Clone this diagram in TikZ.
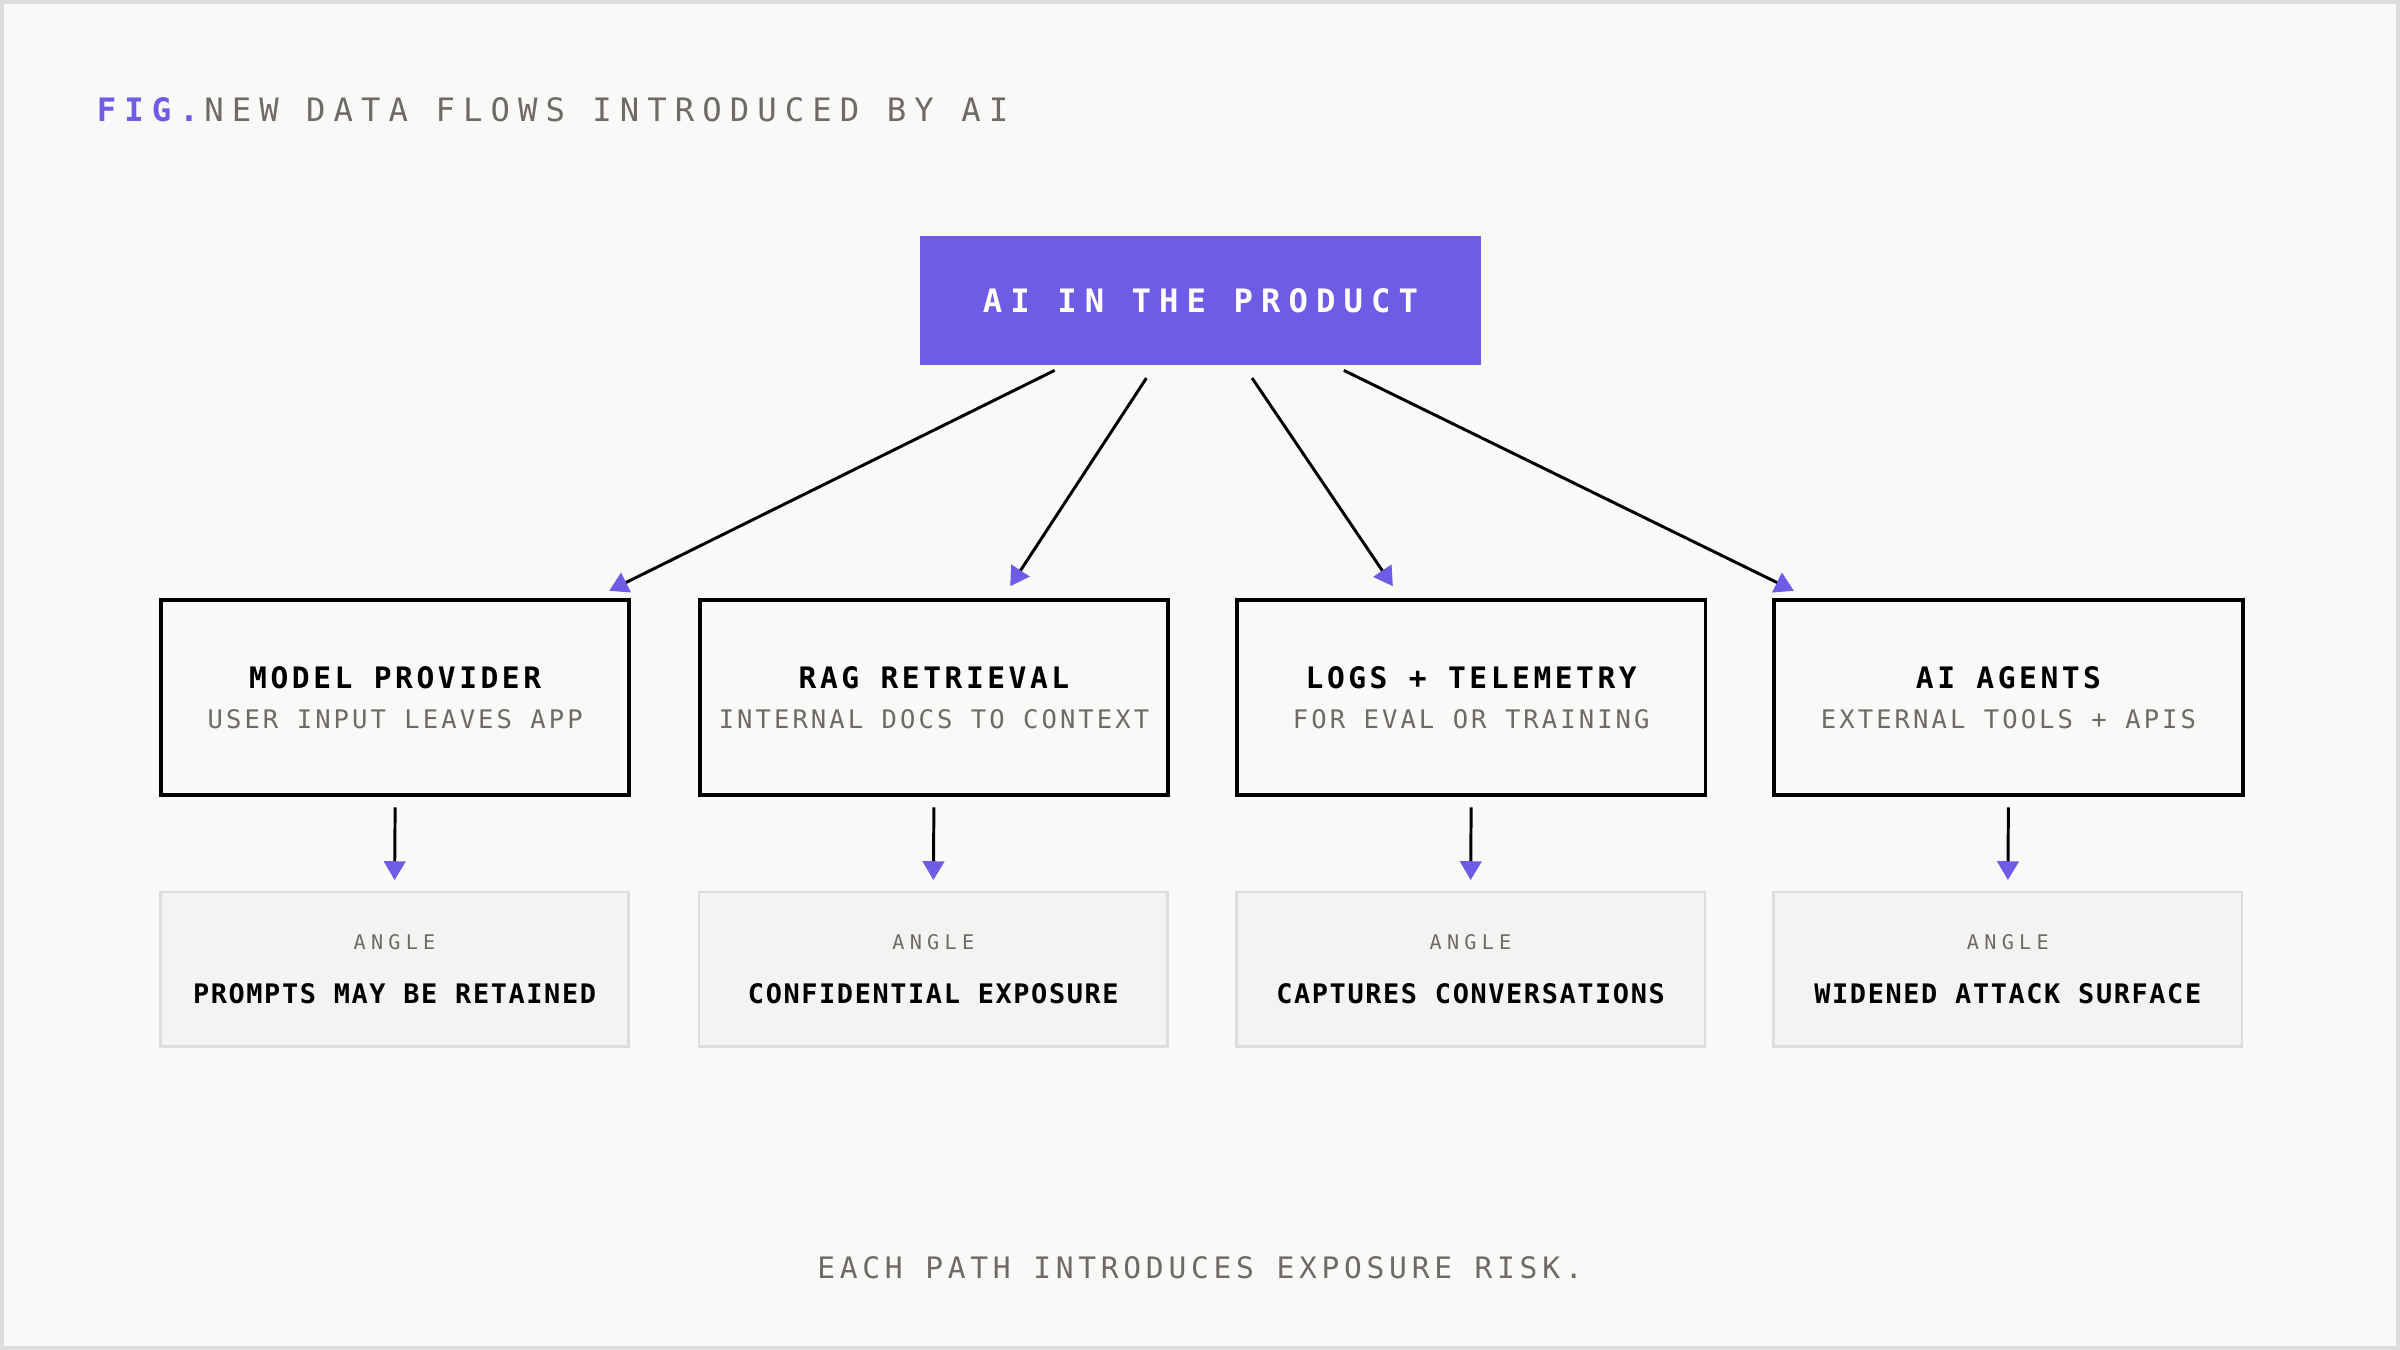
\documentclass[tikz,border=0pt]{standalone}
\usepackage{fontspec}
\usetikzlibrary{arrows.meta,positioning}
\newfontfamily\ttA[LetterSpace=25]{DejaVu Sans Mono}
\newfontfamily\ttB[LetterSpace=12]{DejaVu Sans Mono}
\newfontfamily\ttC[LetterSpace=26]{DejaVu Sans Mono}
\newfontfamily\ttD[LetterSpace=6]{DejaVu Sans Mono}
\newfontfamily\ttE[LetterSpace=16]{DejaVu Sans Mono}
\definecolor{accent}{HTML}{6E5BE6}
\definecolor{greytxt}{HTML}{6F6A66}
\definecolor{paper}{HTML}{F9F9F7}
\definecolor{cardbg}{HTML}{F3F3F1}
\definecolor{cardln}{HTML}{DDDDDB}
\tikzset{
  flowbox/.style={draw=black, line width=1.4pt, fill=paper, minimum width=6.12cm, minimum height=2.54cm, anchor=north west},
  anglebox/.style={draw=cardln, line width=0.9pt, fill=cardbg, minimum width=6.12cm, minimum height=2.02cm, anchor=north west},
  flow/.style={line width=1.1pt, -{Triangle[length=7pt,width=8pt,color=accent]}},
}
\newcommand{\flowtext}[2]{{\ttB\bfseries\fontsize{11}{13}\selectfont #1}\\[3pt]{\ttB\color{greytxt}\fontsize{9.5}{12}\selectfont #2}}
\newcommand{\angletext}[1]{{\ttC\color{greytxt}\fontsize{7.5}{10}\selectfont ANGLE}\\[8pt]{\ttD\bfseries\fontsize{10}{12}\selectfont #1}}
\begin{document}
\begin{tikzpicture}[x=0.02cm,y=-0.02cm]
  \useasboundingbox (0,0) rectangle (1568,882);
  \fill[paper] (0,0) rectangle (1568,882);
  \draw[cardln, line width=1.5pt] (1,1) rectangle (1567,881);

  % heading
  \node[anchor=west, inner sep=0, font=\ttA\fontsize{12}{14}\selectfont] (fig) at (63,72)
    {\textcolor{accent}{\bfseries FIG.}\,\textcolor{greytxt}{NEW DATA FLOWS INTRODUCED BY AI}};

  % source
  \node[fill=accent, text=white, minimum width=7.32cm, minimum height=1.68cm, anchor=north west,
        font=\ttA\bfseries\fontsize{12}{14}\selectfont] (ai) at (601,154) {AI IN THE PRODUCT};

  % flows
  \node[flowbox, align=center] (provider) at (104,391) {\flowtext{MODEL PROVIDER}{USER INPUT LEAVES APP}};
  \node[flowbox, align=center] (rag) at (456,391) {\flowtext{RAG RETRIEVAL}{INTERNAL DOCS TO CONTEXT}};
  \node[flowbox, align=center] (logs) at (807,391) {\flowtext{LOGS + TELEMETRY}{FOR EVAL OR TRAINING}};
  \node[flowbox, align=center] (agents) at (1158,391) {\flowtext{AI AGENTS}{EXTERNAL TOOLS + APIS}};

  % angles
  \node[anglebox, align=center] (retain) at (104,582) {\angletext{PROMPTS MAY BE RETAINED}};
  \node[anglebox, align=center] (expose) at (456,582) {\angletext{CONFIDENTIAL EXPOSURE}};
  \node[anglebox, align=center] (capture) at (807,582) {\angletext{CAPTURES CONVERSATIONS}};
  \node[anglebox, align=center] (attack) at (1158,582) {\angletext{WIDENED ATTACK SURFACE}};

  \coordinate (s1) at (689,242);
  \coordinate (s2) at (749,247);
  \coordinate (s3) at (818,247);
  \coordinate (s4) at (878,242);
  \coordinate (e1) at (398,386);
  \coordinate (e2) at (660,383);
  \coordinate (e3) at (910,383);
  \coordinate (e4) at (1172,386);

  \draw[flow] (s1) -- (e1);
  \draw[flow] (s2) -- (e2);
  \draw[flow] (s3) -- (e3);
  \draw[flow] (s4) -- (e4);

  \foreach \a/\b in {provider/retain, rag/expose, logs/capture, agents/attack}
    \draw[flow, shorten <=4pt, shorten >=4pt] (\a.south) -- (\b.north);

  \node[font=\ttE\fontsize{11}{13}\selectfont, text=greytxt] (risk) at (784,828) {EACH PATH INTRODUCES EXPOSURE RISK.};
\end{tikzpicture}
\end{document}
